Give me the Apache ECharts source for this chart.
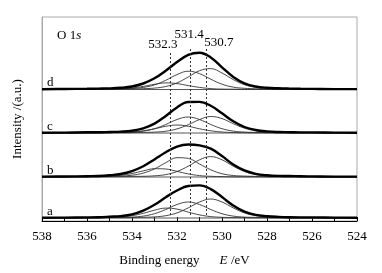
<!DOCTYPE html>
<html>
<head>
<meta charset="utf-8">
<script src="https://cdn.jsdelivr.net/npm/echarts@6/dist/echarts.min.js"></script>
<style>
    html, body { margin: 0; padding: 0; background: #fff; }
    #chart { width: 382px; height: 273px; }
</style>
</head>
<body>
<div id="chart"></div>
<script>
// binding energy grid (eV)
let energies = [538, 537, 536, 535.5, 535, 534.5, 534, 533.5, 533, 532.5, 532, 531.5, 531, 530.5, 530, 529.5, 529, 528.5, 528, 527.5, 527, 526.5, 526, 525, 524];

// sample labels and the vertical offset of each spectrum
let sampleNames = ["a", "b", "c", "d"];
let offsets = [3, 44, 88, 131.5];

// envelopes (above each baseline)
let envA = [0.3, 0.4, 0.6, 0.8, 1.3, 1.9, 3.6, 7.3, 13.2, 20.7, 27.5, 32.0, 32.6, 28.9, 21.0, 12.4, 6.3, 3.1, 1.8, 1.1, 0.7, 0.6, 0.6, 0.4, 0.3];
let envB = [0.4, 0.5, 0.8, 1.0, 1.7, 3.0, 5.9, 10.7, 17.6, 24.7, 30.4, 32.5, 31.6, 28.3, 20.9, 12.5, 6.6, 3.2, 1.7, 1.1, 1.0, 0.7, 0.6, 0.4, 0.4];
let envC = [0.3, 0.4, 0.7, 0.7, 1.0, 1.4, 2.3, 4.7, 9.4, 17.0, 25.6, 31.0, 31.1, 27.2, 19.7, 11.7, 6.0, 3.0, 1.6, 1.0, 0.8, 0.6, 0.6, 0.4, 0.3];
let envD = [0.3, 0.5, 0.7, 0.9, 1.1, 1.7, 3.0, 6.0, 11.2, 18.8, 27.4, 34.7, 36.8, 32.1, 22.2, 12.6, 6.2, 3.0, 1.7, 1.2, 0.9, 0.7, 0.6, 0.4, 0.4];

// fitted components: ~530.7, ~531.4, ~532.3 eV
let a1 = [0.1, 0.1, 0.2, 0.2, 0.3, 0.3, 0.4, 0.7, 1.1, 2.3, 5.1, 10.1, 16.0, 19.0, 16.0, 10.1, 5.1, 2.3, 1.1, 0.7, 0.4, 0.3, 0.3, 0.2, 0.1];
let a2 = [0.1, 0.2, 0.2, 0.3, 0.5, 0.6, 0.9, 1.9, 4.3, 8.5, 13.5, 16.0, 13.5, 8.5, 4.3, 1.9, 0.9, 0.6, 0.5, 0.3, 0.2, 0.2, 0.2, 0.1, 0.1];
let a3 = [0.1, 0.1, 0.2, 0.3, 0.5, 1.0, 2.3, 4.7, 7.8, 9.9, 8.9, 5.9, 3.1, 1.4, 0.7, 0.4, 0.3, 0.2, 0.2, 0.1, 0.1, 0.1, 0.1, 0.1, 0.1];

let b1 = [0.1, 0.1, 0.2, 0.2, 0.3, 0.4, 0.6, 0.7, 1.2, 2.4, 5.5, 10.8, 17.2, 20.4, 17.2, 10.8, 5.5, 2.4, 1.2, 0.7, 0.6, 0.4, 0.3, 0.2, 0.2];
let b2 = [0.2, 0.2, 0.3, 0.4, 0.6, 0.9, 1.8, 3.9, 8.1, 14.3, 19.3, 18.6, 13.0, 7.2, 3.3, 1.5, 0.9, 0.6, 0.4, 0.3, 0.3, 0.2, 0.2, 0.1, 0.1];
let b3 = [0.1, 0.2, 0.3, 0.4, 0.8, 1.7, 3.5, 6.1, 8.3, 8.0, 5.6, 3.1, 1.4, 0.7, 0.4, 0.2, 0.2, 0.2, 0.1, 0.1, 0.1, 0.1, 0.1, 0.1, 0.1];

let c1 = [0.1, 0.1, 0.2, 0.2, 0.3, 0.3, 0.4, 0.6, 0.9, 1.8, 4.1, 8.3, 13.4, 16.5, 14.4, 9.3, 4.8, 2.2, 1.0, 0.6, 0.4, 0.3, 0.3, 0.2, 0.1];
let c2 = [0.1, 0.2, 0.3, 0.3, 0.4, 0.6, 0.9, 1.9, 4.3, 8.5, 13.5, 16.0, 13.5, 8.5, 4.3, 1.9, 0.9, 0.6, 0.4, 0.3, 0.3, 0.2, 0.2, 0.1, 0.1];
let c3 = [0.1, 0.1, 0.2, 0.2, 0.3, 0.5, 1.0, 2.2, 4.2, 6.7, 8.0, 6.7, 4.2, 2.2, 1.0, 0.5, 0.3, 0.2, 0.2, 0.1, 0.1, 0.1, 0.1, 0.1, 0.1];

let d1 = [0.1, 0.2, 0.2, 0.3, 0.4, 0.4, 0.5, 0.8, 1.4, 3.0, 6.6, 12.5, 18.8, 20.9, 16.5, 9.9, 4.8, 2.2, 1.1, 0.7, 0.5, 0.4, 0.3, 0.2, 0.2];
let d2 = [0.1, 0.2, 0.3, 0.4, 0.4, 0.6, 1.0, 2.1, 4.6, 9.2, 14.9, 18.3, 15.9, 10.3, 5.3, 2.4, 1.2, 0.7, 0.5, 0.4, 0.3, 0.2, 0.2, 0.1, 0.1];
let d3 = [0.1, 0.1, 0.2, 0.2, 0.3, 0.7, 1.5, 3.1, 5.2, 6.6, 5.9, 3.9, 2.1, 0.9, 0.4, 0.3, 0.2, 0.1, 0.1, 0.1, 0.1, 0.1, 0.1, 0.1, 0.1];

let envelopes = [envA, envB, envC, envD];
let components = [[a1, a2, a3], [b1, b2, b3], [c1, c2, c3], [d1, d2, d3]];

// dashed reference lines
let peakPositions = [532.3, 531.4, 530.7];
let peakLabels = ["532.3", "531.4", "530.7"];

let font = "Liberation Serif";

let toPoints = (arr, off) => energies.map((e, i) => [e, arr[i] + off]);

let series = [];
sampleNames.forEach((name, k) => {
    let off = offsets[k];
    // flat baseline
    series.push({
        type: "line", silent: true, symbol: "none",
        lineStyle: {width: 0.9, color: "#444"},
        data: [[538, off], [524, off]],
    });
    components[k].forEach(comp => {
        series.push({
            type: "line", silent: true, symbol: "none", smooth: 0.4,
            lineStyle: {width: 0.9, color: "#333"},
            data: toPoints(comp, off),
        });
    });
    series.push({
        type: "line", silent: true, symbol: "none", smooth: 0.4,
        lineStyle: {width: 2.4, color: "#000"},
        data: toPoints(envelopes[k], off),
    });
});

series.push({
    type: "line", silent: true, data: [],
    markLine: {
        symbol: "none", silent: true,
        label: {show: false},
        lineStyle: {type: [2, 2], color: "#333", width: 1},
        data: peakPositions.map((p, i) => [{coord: [p, 6]}, {coord: [p, i === 0 ? 169 : 173]}]),
    },
});

let options = {
    animation: false,
    grid: {
        left: 42,
        right: 25,
        top: 17,
        bottom: 52,
        show: true,
        borderColor: "#aaa",
        borderWidth: 1,
    },
    xAxis: {
        type: "value",
        inverse: true,
        min: 524,
        max: 538,
        interval: 2,
        name: "{n|Binding energy}      {i|E} {n|/eV}",
        nameLocation: "middle",
        nameGap: 33,
        nameTextStyle: {
            padding: [0, 30, 0, 0],
            rich: {
                n: {fontFamily: font, fontSize: 13, color: "#000"},
                i: {fontFamily: font, fontSize: 13, fontStyle: "italic", color: "#000"},
            },
        },
        axisLine: {show: true, lineStyle: {color: "#000", width: 1}},
        axisTick: {show: true, inside: true, length: 4, lineStyle: {color: "#000"}},
        minorTick: {show: true, splitNumber: 2, length: 4, lineStyle: {color: "#000"}},
        axisLabel: {fontFamily: font, fontSize: 13, color: "#000", margin: 9},
        splitLine: {show: false},
    },
    yAxis: {
        type: "value",
        min: 0,
        max: 204,
        name: "Intensity /(a.u.)",
        nameLocation: "middle",
        nameGap: 18,
        nameTextStyle: {fontFamily: font, fontSize: 13, color: "#000"},
        axisLine: {show: true, lineStyle: {color: "#aaa"}},
        axisTick: {show: false},
        axisLabel: {show: false},
        splitLine: {show: false},
    },
    series: series,
};

let chart = echarts.init(document.getElementById("chart"));
chart.setOption(options);

// text annotations placed from data coordinates
let graphics = [];
sampleNames.forEach((name, k) => {
    let p = chart.convertToPixel({gridIndex: 0}, [538, offsets[k]]);
    graphics.push({
        type: "text", left: p[0] + 5, top: p[1] - 13,
        style: {text: name, font: "13px " + font, fill: "#000"},
    });
});
let labelShift = [[-22, -14], [-16, -20], [-2, -12]];
peakPositions.forEach((v, i) => {
    let p = chart.convertToPixel({gridIndex: 0}, [v, i === 0 ? 169 : 173]);
    graphics.push({
        type: "text", left: p[0] + labelShift[i][0], top: p[1] + labelShift[i][1],
        style: {text: peakLabels[i], font: "13px " + font, fill: "#000"},
    });
});
graphics.push({
    type: "text", left: 57, top: 29,
    style: {
        text: "{n|O 1}{i|s}",
        rich: {
            n: {font: "13px " + font, fill: "#000"},
            i: {font: "italic 13px " + font, fill: "#000"},
        },
    },
});
chart.setOption({graphic: graphics});
</script>
</body>
</html>
